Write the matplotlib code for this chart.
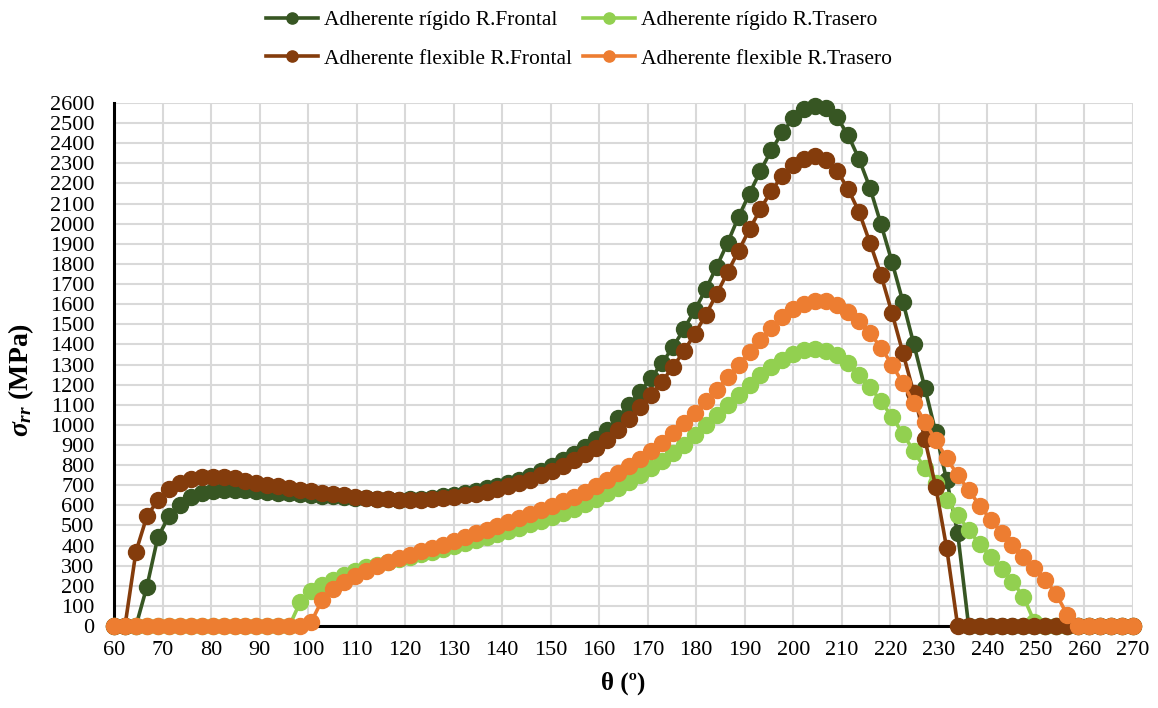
import matplotlib
matplotlib.use("Agg")
import matplotlib.pyplot as plt

# ---------------- data ----------------
theta = [60.00, 62.26, 64.52, 66.77, 69.03, 71.29, 73.55, 75.81, 78.06, 80.32,
         82.58, 84.84, 87.10, 89.35, 91.61, 93.87, 96.13, 98.39, 100.65, 102.90,
         105.16, 107.42, 109.68, 111.94, 114.19, 116.45, 118.71, 120.97, 123.23, 125.48,
         127.74, 130.00, 132.26, 134.52, 136.77, 139.03, 141.29, 143.55, 145.81, 148.06,
         150.32, 152.58, 154.84, 157.10, 159.35, 161.61, 163.87, 166.13, 168.39, 170.65,
         172.90, 175.16, 177.42, 179.68, 181.94, 184.19, 186.45, 188.71, 190.97, 193.23,
         195.48, 197.74, 200.00, 202.26, 204.52, 206.77, 209.03, 211.29, 213.55, 215.81,
         218.06, 220.32, 222.58, 224.84, 227.10, 229.35, 231.61, 233.87, 236.13, 238.39,
         240.65, 242.90, 245.16, 247.42, 249.68, 251.94, 254.19, 256.45, 258.71, 260.97,
         263.23, 265.48, 267.74, 270.00]

rigido_frontal = [0, 0, 0, 195, 441, 545, 603, 640, 660, 670,
                  675, 676, 674, 671, 667, 663, 659, 655, 651, 647,
                  644, 641, 638, 634, 631, 629, 628, 629, 632, 637,
                  644, 652, 662, 673, 685, 698, 712, 728, 748, 770,
                  795, 823, 855, 890, 930, 975, 1035, 1098, 1165, 1231,
                  1306, 1385, 1475, 1570, 1673, 1786, 1905, 2034, 2150, 2263,
                  2366, 2454, 2523, 2568, 2584, 2573, 2528, 2440, 2321, 2177,
                  1998, 1811, 1612, 1400, 1184, 963, 724, 462, 0, 0,
                  0, 0, 0, 0, 0, 0, 0, 0, 0, 0,
                  0, 0, 0, 0]

rigido_trasero = [0, 0, 0, 0, 0, 0, 0, 0, 0, 0,
                  0, 0, 0, 0, 0, 0, 0, 120, 172, 205,
                  230, 254, 275, 294, 305, 318, 331, 344, 357, 370,
                  384, 398, 412, 426, 441, 456, 472, 489, 506, 524,
                  543, 563, 584, 607, 632, 660, 686, 717, 751, 784,
                  818, 858, 901, 949, 999, 1049, 1098, 1148, 1198, 1246,
                  1289, 1324, 1352, 1370, 1376, 1368, 1347, 1306, 1248, 1189,
                  1117, 1040, 956, 868, 784, 709, 625, 552, 477, 408,
                  344, 282, 220, 146, 20, 0, 0, 0, 0, 0,
                  0, 0, 0, 0]

flexible_frontal = [0, 0, 369, 545, 625, 680, 710, 730, 739, 743,
                    741, 734, 723, 712, 703, 694, 685, 677, 669, 662,
                    655, 649, 643, 637, 633, 630, 628, 627, 628, 631,
                    636, 642, 649, 658, 668, 680, 694, 710, 728, 749,
                    772, 797, 824, 853, 886, 923, 975, 1030, 1088, 1148,
                    1214, 1287, 1365, 1452, 1546, 1650, 1758, 1865, 1972, 2073,
                    2164, 2237, 2291, 2324, 2336, 2318, 2262, 2172, 2058, 1904,
                    1745, 1557, 1358, 1157, 928, 692, 386, 0, 0, 0,
                    0, 0, 0, 0, 0, 0, 0, 0, 0, 0,
                    0, 0, 0, 0]

flexible_trasero = [0, 0, 0, 0, 0, 0, 0, 0, 0, 0,
                    0, 0, 0, 0, 0, 0, 0, 0, 20, 130,
                    182, 220, 250, 275, 297, 318, 337, 355, 372, 389,
                    405, 423, 441, 460, 479, 498, 517, 537, 557, 577,
                    598, 620, 643, 667, 694, 726, 759, 794, 830, 871,
                    911, 958, 1007, 1060, 1117, 1175, 1237, 1300, 1361, 1423,
                    1482, 1534, 1575, 1601, 1615, 1615, 1597, 1562, 1514, 1455,
                    1384, 1300, 1206, 1108, 1015, 924, 834, 750, 676, 599,
                    529, 464, 403, 341, 287, 229, 159, 55, 0, 0,
                    0, 0, 0, 0]

series_labels = ["Adherente rígido R.Frontal", "Adherente rígido R.Trasero",
                 "Adherente flexible R.Frontal", "Adherente flexible R.Trasero"]
series_colors = ["#375623", "#92D050", "#843C0C", "#ED7D31"]
x_ticks = list(range(60, 271, 10))
y_ticks = list(range(0, 2601, 100))

# ---------------- style ----------------
plt.rcParams['font.family'] = ['Liberation Serif', 'DejaVu Serif']
plt.rcParams['mathtext.fontset'] = 'custom'
plt.rcParams['mathtext.it'] = 'Liberation Serif:italic:bold'
plt.rcParams['mathtext.rm'] = 'Liberation Serif:bold'
plt.rcParams['mathtext.bf'] = 'Liberation Serif:bold'

fig = plt.figure(figsize=(11.58, 7.08), dpi=100)
ax = fig.add_axes([114/1158, 1 - 626/708, (1133 - 114)/1158, (626 - 103)/708])

all_series = [rigido_frontal, rigido_trasero, flexible_frontal, flexible_trasero]
handles = []
for vals, lab, col in zip(all_series, series_labels, series_colors):
    h, = ax.plot(theta, vals, color=col, lw=2.6, marker='o', markersize=11.5,
                 markeredgecolor=col, markerfacecolor=col, label=lab,
                 clip_on=False, zorder=3)
    handles.append(h)

ax.set_xlim(60, 270)
ax.set_ylim(0, 2600)
ax.set_xticks(x_ticks)
ax.set_yticks(y_ticks)
ax.grid(True, color='#D9D9D9', lw=1.5, zorder=0)
ax.set_axisbelow(True)
ax.tick_params(axis='both', length=0, labelsize=16)
ax.tick_params(axis='y', pad=14)
ax.tick_params(axis='x', pad=11)

for s in ['top', 'right']:
    ax.spines[s].set_visible(False)
for s in ['left', 'bottom']:
    ax.spines[s].set_color('black')
    ax.spines[s].set_linewidth(2.2)
    ax.spines[s].set_zorder(2.5)

ax.set_xlabel("θ (º)", fontsize=18, fontweight='bold', labelpad=8)
ax.set_ylabel(r"$\sigma_{rr}$ (MPa)", fontsize=20, fontweight='bold')
ax.yaxis.set_label_coords(-78/1019, 0.47)

# row-wise legend order (matplotlib fills columns first)
order = [0, 2, 1, 3]
fig.legend([handles[i] for i in order], [series_labels[i] for i in order],
           loc='upper center', bbox_to_anchor=(0.5, 1.013),
           ncol=2, frameon=False, fontsize=15.5, handlelength=2.4,
           handletextpad=0.3, columnspacing=0.5, labelspacing=0.85,
           markerscale=0.7)

fig.savefig("out.png", dpi=100)
